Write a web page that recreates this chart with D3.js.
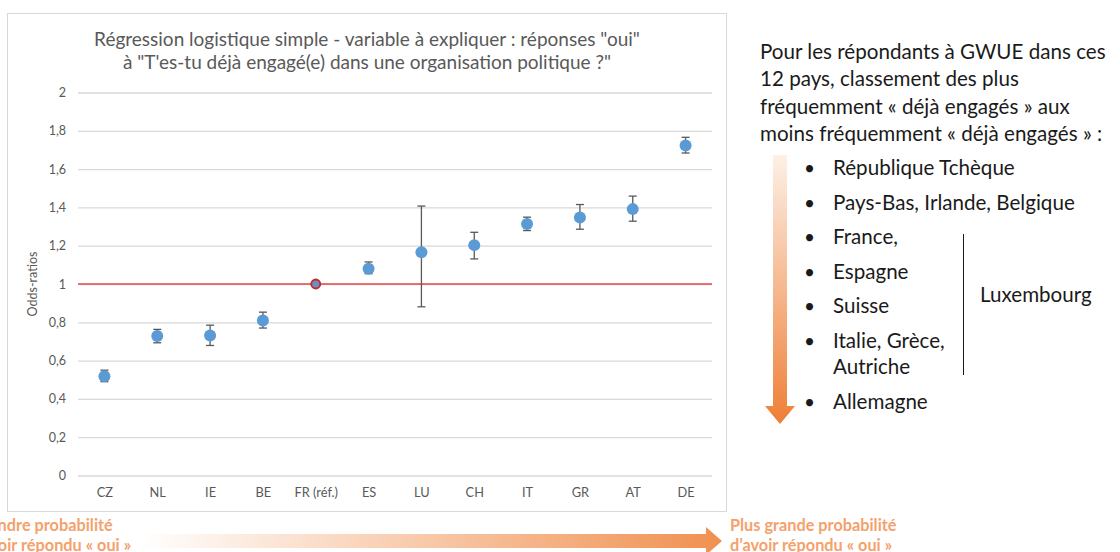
<!DOCTYPE html>
<html>
<head>
<meta charset="utf-8">
<script src="https://cdn.jsdelivr.net/npm/d3@7"></script>
<style>
  body { margin: 0; background: #fff; }
  svg { display: block; font-family: Lato, "Open Sans", sans-serif; }
</style>
</head>
<body>
<div id="chart"></div>
<script>
// data
var countries = ["CZ", "NL", "IE", "BE", "FR (réf.)", "ES", "LU", "CH", "IT", "GR", "AT", "DE"];
var oddsRatios = [0.518, 0.729, 0.731, 0.81, 1, 1.08, 1.166, 1.203, 1.313, 1.347, 1.391, 1.723];
var ciLow  = [0.49, 0.693, 0.679, 0.77, null, 1.054, 0.881, 1.131, 1.279, 1.286, 1.328, 1.684];
var ciHigh = [0.55, 0.763, 0.785, 0.853, null, 1.115, 1.407, 1.27, 1.349, 1.415, 1.459, 1.766];
var yTicks = [0, 0.2, 0.4, 0.6, 0.8, 1, 1.2, 1.4, 1.6, 1.8, 2];
var refCountry = "FR (réf.)";

var titleLines = ["Régression logistique simple - variable à expliquer : réponses \"oui\"",
                  "à \"T'es-tu déjà engagé(e) dans une organisation politique ?\""];
var introLines = ["Pour les répondants à GWUE dans ces", "12 pays, classement des plus",
                  "fréquemment « déjà engagés » aux", "moins fréquemment « déjà engagés » :"];
var rankLines = ["République Tchèque", "Pays-Bas, Irlande, Belgique", "France,", "Espagne",
                 "Suisse", "Italie, Grèce,", "Autriche", "Allemagne"];
var bulleted = [true, true, true, true, true, true, false, true];

var W = 1120, H = 552;
var plot = {left: 78, right: 712, top: 92.5, bottom: 475.5};

var svg = d3.select("#chart").append("svg")
  .attr("width", W).attr("height", H);

var defs = svg.append("defs");
var gh = defs.append("linearGradient").attr("id", "gh").attr("x1", 0).attr("x2", 1).attr("y1", 0).attr("y2", 0);
gh.append("stop").attr("offset", 0).attr("stop-color", "#fff");
gh.append("stop").attr("offset", 1).attr("stop-color", "#f0904f");
var gv = defs.append("linearGradient").attr("id", "gv").attr("x1", 0).attr("x2", 0).attr("y1", 0).attr("y2", 1);
gv.append("stop").attr("offset", 0).attr("stop-color", "#fdf0e6");
gv.append("stop").attr("offset", 1).attr("stop-color", "#ee7f36");

// chart frame
svg.append("rect")
  .attr("x", 7.5).attr("y", 13.5).attr("width", 719).attr("height", 498)
  .attr("fill", "#fff").attr("stroke", "#d9d9d9");

// title
svg.append("g").selectAll("text")
  .data(titleLines).enter().append("text")
    .attr("x", 367).attr("y", function(d, i) { return 46 + i * 23; })
    .attr("text-anchor", "middle")
    .attr("font-size", 19)
    .attr("fill", "#595959")
    .text(function(d) { return d; });

// scales
var x = d3.scalePoint()
  .domain(countries)
  .range([plot.left, plot.right])
  .padding(0.5);
var y = d3.scaleLinear()
  .domain([0, 2])
  .range([plot.bottom, plot.top]);

// grid
svg.append("g")
  .attr("transform", "translate(" + plot.left + ",0)")
  .call(d3.axisLeft(y).tickValues(yTicks).tickSize(-(plot.right - plot.left))
    .tickFormat(function(d) { return d3.format("~g")(d).replace(".", ","); }))
  .call(function(g) {
    g.select(".domain").remove();
    g.selectAll(".tick line").attr("stroke", "#d9d9d9").attr("stroke-width", 1.3);
    g.selectAll(".tick text").attr("x", -12).attr("fill", "#595959")
      .attr("font-size", 12.5).attr("font-family", "Lato, sans-serif");
  });

// category axis
svg.append("g")
  .attr("transform", "translate(0," + plot.bottom + ")")
  .call(d3.axisBottom(x).tickSize(0).tickPadding(12))
  .call(function(g) {
    g.select(".domain").remove();
    g.selectAll(".tick text").attr("fill", "#595959")
      .attr("font-size", 12.8).attr("font-family", "Lato, sans-serif");
  });

// y title
svg.append("text")
  .attr("transform", "translate(37," + y(1) + ") rotate(-90)")
  .attr("text-anchor", "middle")
  .attr("font-size", 12.5)
  .attr("fill", "#595959")
  .text("Odds-ratios");

// reference line at 1
svg.append("line")
  .attr("x1", plot.left).attr("x2", plot.right)
  .attr("y1", y(1)).attr("y2", y(1))
  .attr("stroke", "#e04848").attr("stroke-width", 1.4);

var rows = countries.map(function(c, i) {
  return {c: c, v: oddsRatios[i], lo: ciLow[i], hi: ciHigh[i]};
});

// error bars
var eb = svg.append("g").selectAll("g")
  .data(rows.filter(function(d) { return d.lo != null; }))
  .enter().append("g")
    .attr("stroke", "#595959").attr("stroke-width", 1.3);
eb.append("line")
  .attr("x1", function(d) { return x(d.c); }).attr("x2", function(d) { return x(d.c); })
  .attr("y1", function(d) { return y(d.lo); }).attr("y2", function(d) { return y(d.hi); });
eb.append("line")
  .attr("x1", function(d) { return x(d.c) - 4; }).attr("x2", function(d) { return x(d.c) + 4; })
  .attr("y1", function(d) { return y(d.lo); }).attr("y2", function(d) { return y(d.lo); });
eb.append("line")
  .attr("x1", function(d) { return x(d.c) - 4; }).attr("x2", function(d) { return x(d.c) + 4; })
  .attr("y1", function(d) { return y(d.hi); }).attr("y2", function(d) { return y(d.hi); });

// points
svg.append("g").selectAll("circle")
  .data(rows).enter().append("circle")
    .attr("cx", function(d) { return x(d.c); })
    .attr("cy", function(d) { return y(d.v); })
    .attr("r", function(d) { return d.c == refCountry ? 4.5 : 6; })
    .attr("fill", function(d) { return d.c == refCountry ? "#6d8fc0" : "#5b9bd5"; })
    .attr("stroke", function(d) { return d.c == refCountry ? "#c0282d" : "none"; })
    .attr("stroke-width", 1.8);

// bottom arrow
svg.append("path")
  .attr("d", "M140,534 L706,534 L706,527 L722,541 L706,555 L706,548 L140,548 Z")
  .attr("fill", "url(#gh)");

var leftNote = ["Moindre probabilité", "d’avoir répondu « oui »"];
var rightNote = ["Plus grande probabilité", "d’avoir répondu « oui »"];
svg.append("g").selectAll("text")
  .data(leftNote).enter().append("text")
    .attr("x", -31).attr("y", function(d, i) { return 531 + i * 20; })
    .attr("font-size", 16.3).attr("font-weight", "bold").attr("fill", "#f4a16b")
    .text(function(d) { return d; });
svg.append("g").selectAll("text")
  .data(rightNote).enter().append("text")
    .attr("x", 730).attr("y", function(d, i) { return 531 + i * 20; })
    .attr("font-size", 16.3).attr("font-weight", "bold").attr("fill", "#f4a16b")
    .text(function(d) { return d; });

// right panel text
svg.append("g").selectAll("text")
  .data(introLines).enter().append("text")
    .attr("x", 760).attr("y", function(d, i) { return 59 + i * 27.3; })
    .attr("font-size", 20.6).attr("fill", "#1a1a1a")
    .text(function(d) { return d; });

// vertical arrow
svg.append("path")
  .attr("d", "M773,155 L787,155 L787,406 L795,406 L780,424 L765,406 L773,406 Z")
  .attr("fill", "url(#gv)");

var rankY = [175, 209.5, 244, 278.5, 313, 347.5, 374, 409];
var rk = svg.append("g").selectAll("g")
  .data(rankLines).enter().append("g");
rk.append("text")
  .attr("x", 833).attr("y", function(d, i) { return rankY[i]; })
  .attr("font-size", 20.6).attr("fill", "#1a1a1a")
  .text(function(d) { return d; });
rk.filter(function(d, i) { return bulleted[i]; }).append("text")
  .attr("x", 804).attr("y", function(d) { return rankY[rankLines.indexOf(d)]; })
  .attr("font-size", 19).attr("fill", "#1a1a1a")
  .text("•");

svg.append("line")
  .attr("x1", 963.5).attr("x2", 963.5).attr("y1", 234).attr("y2", 375)
  .attr("stroke", "#1a1a1a").attr("stroke-width", 1);
svg.append("text")
  .attr("x", 980).attr("y", 302)
  .attr("font-size", 20.6).attr("fill", "#1a1a1a")
  .text("Luxembourg");
</script>
</body>
</html>
